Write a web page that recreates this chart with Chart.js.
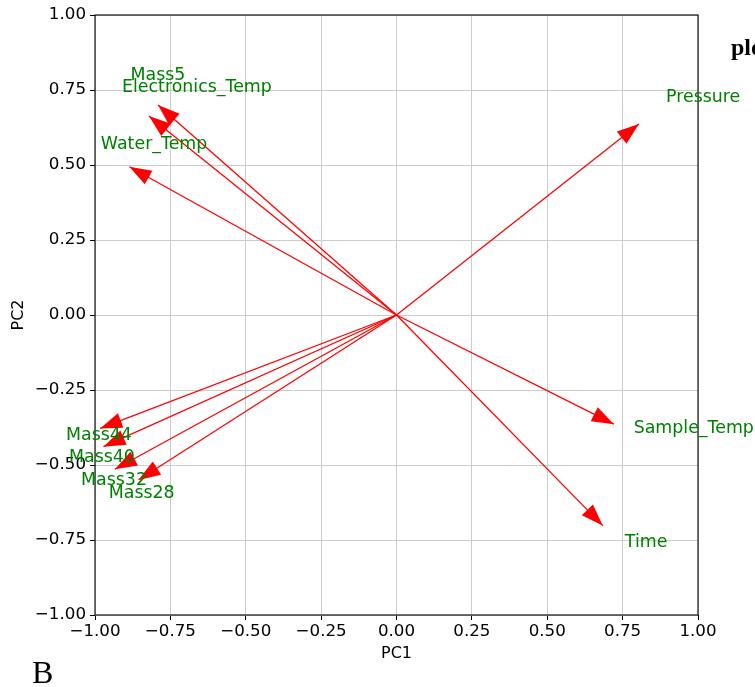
<!DOCTYPE html>
<html>
<head>
<meta charset="utf-8">
<script src="https://cdn.jsdelivr.net/npm/chart.js@4/dist/chart.umd.min.js"></script>
<style>
  html, body { margin: 0; padding: 0; background: #ffffff; }
  #wrap { position: relative; width: 755px; height: 687px; overflow: hidden; }
  canvas { display: block; }
</style>
</head>
<body>
<div id="wrap"><canvas id="biplot" width="755" height="687"></canvas></div>
<script>
// Variable loadings on the first two principal components (arrow tips)
const variables = ['Mass5', 'Electronics_Temp', 'Water_Temp', 'Pressure', 'Sample_Temp',
                   'Time', 'Mass44', 'Mass40', 'Mass32', 'Mass28'];
const pc1 = [-0.791, -0.821, -0.886, 0.804, 0.721, 0.684, -0.983, -0.972, -0.934, -0.856];
const pc2 = [0.700, 0.663, 0.494, 0.637, -0.364, -0.702, -0.378, -0.439, -0.514, -0.550];

// Where each variable name is written, in PC units
const labelPC1 = [-0.791, -0.662, -0.804, 1.017, 0.986, 0.828, -0.987, -0.977, -0.937, -0.845];
const labelPC2 = [0.800, 0.757, 0.570, 0.725, -0.379, -0.759, -0.403, -0.475, -0.551, -0.595];

// Axis range and tick spacing
const axisMin = -1;
const axisMax = 1;
const tickStep = 0.25;

const ARROW_RED = '#ff0000';
const LABEL_GREEN = '#008000';
const GRID_GREY = '#cccccc';
const HEAD_LENGTH = 22;
const HEAD_HALF_WIDTH = 7.8;

const datasets = variables.map((name, i) => ({
  label: name,
  data: [{ x: 0, y: 0 }, { x: pc1[i], y: pc2[i] }],
  showLine: true,
  borderColor: ARROW_RED,
  backgroundColor: ARROW_RED,
  borderWidth: 1.3,
  pointRadius: 0,
  pointHoverRadius: 0
}));

const fmtTick = v => {
  const n = Math.abs(v) < 1e-9 ? 0 : v;
  return n.toFixed(2).replace('-', '\u2212');
};

// Filled triangular heads at the end of every loading arrow
const arrowHeads = {
  id: 'arrowHeads',
  afterDatasetsDraw(chart) {
    const { ctx, scales: { x, y }, chartArea } = chart;
    ctx.save();
    ctx.beginPath();
    ctx.rect(chartArea.left, chartArea.top, chartArea.right - chartArea.left, chartArea.bottom - chartArea.top);
    ctx.clip();
    ctx.fillStyle = ARROW_RED;
    for (let i = 0; i < variables.length; i++) {
      const x0 = x.getPixelForValue(0), y0 = y.getPixelForValue(0);
      const tx = x.getPixelForValue(pc1[i]), ty = y.getPixelForValue(pc2[i]);
      const len = Math.hypot(tx - x0, ty - y0);
      const ux = (tx - x0) / len, uy = (ty - y0) / len;
      const bx = tx - ux * HEAD_LENGTH, by = ty - uy * HEAD_LENGTH;
      ctx.beginPath();
      ctx.moveTo(tx, ty);
      ctx.lineTo(bx - uy * HEAD_HALF_WIDTH, by + ux * HEAD_HALF_WIDTH);
      ctx.lineTo(bx + uy * HEAD_HALF_WIDTH, by - ux * HEAD_HALF_WIDTH);
      ctx.closePath();
      ctx.fill();
    }
    ctx.restore();
  }
};

// Frame, variable names and the surrounding figure text
const annotations = {
  id: 'annotations',
  afterDraw(chart) {
    const { ctx, scales: { x, y }, chartArea } = chart;
    ctx.save();
    ctx.strokeStyle = '#000000';
    ctx.lineWidth = 1.1;
    ctx.strokeRect(chartArea.left, chartArea.top, chartArea.right - chartArea.left, chartArea.bottom - chartArea.top);

    ctx.fillStyle = LABEL_GREEN;
    ctx.font = '17.4px "DejaVu Sans"';
    ctx.textAlign = 'center';
    ctx.textBaseline = 'middle';
    for (let i = 0; i < variables.length; i++) {
      ctx.fillText(variables[i], x.getPixelForValue(labelPC1[i]), y.getPixelForValue(labelPC2[i]));
    }

    ctx.fillStyle = '#000000';
    ctx.textAlign = 'left';
    ctx.textBaseline = 'alphabetic';
    ctx.font = 'bold 24px "Liberation Serif"';
    ctx.fillText('plot', 731, 55);
    ctx.font = '32px "Liberation Serif"';
    ctx.fillText('B', 32, 683);
    ctx.restore();
  }
};

const tickFont = { family: 'DejaVu Sans', size: 16.7 };
const titleFont = { family: 'DejaVu Sans', size: 16 };

new Chart(document.getElementById('biplot'), {
  type: 'scatter',
  data: { datasets },
  options: {
    responsive: false,
    animation: false,
    events: [],
    layout: { padding: { left: 0, top: 15, right: 57, bottom: 0 } },
    plugins: { legend: { display: false }, tooltip: { enabled: false } },
    scales: {
      x: {
        type: 'linear',
        min: axisMin,
        max: axisMax,
        afterFit(scale) { scale.height = 72; },
        ticks: { stepSize: tickStep, color: '#000000', font: tickFont, padding: 2, callback: fmtTick, maxRotation: 0 },
        grid: { color: GRID_GREY, lineWidth: 1, tickColor: '#000000', tickLength: 5, drawTicks: true },
        border: { display: false },
        title: { display: true, text: 'PC1', color: '#000000', font: titleFont, padding: { top: 0, bottom: 24 } }
      },
      y: {
        type: 'linear',
        min: axisMin,
        max: axisMax,
        afterFit(scale) { scale.width = 95; },
        ticks: { stepSize: tickStep, color: '#000000', font: tickFont, padding: 4, callback: fmtTick },
        grid: { color: GRID_GREY, lineWidth: 1, tickColor: '#000000', tickLength: 5, drawTicks: true },
        border: { display: false },
        title: { display: true, text: 'PC2', color: '#000000', font: titleFont, padding: { top: 9, bottom: 0 } }
      }
    }
  },
  plugins: [arrowHeads, annotations]
});
</script>
</body>
</html>
